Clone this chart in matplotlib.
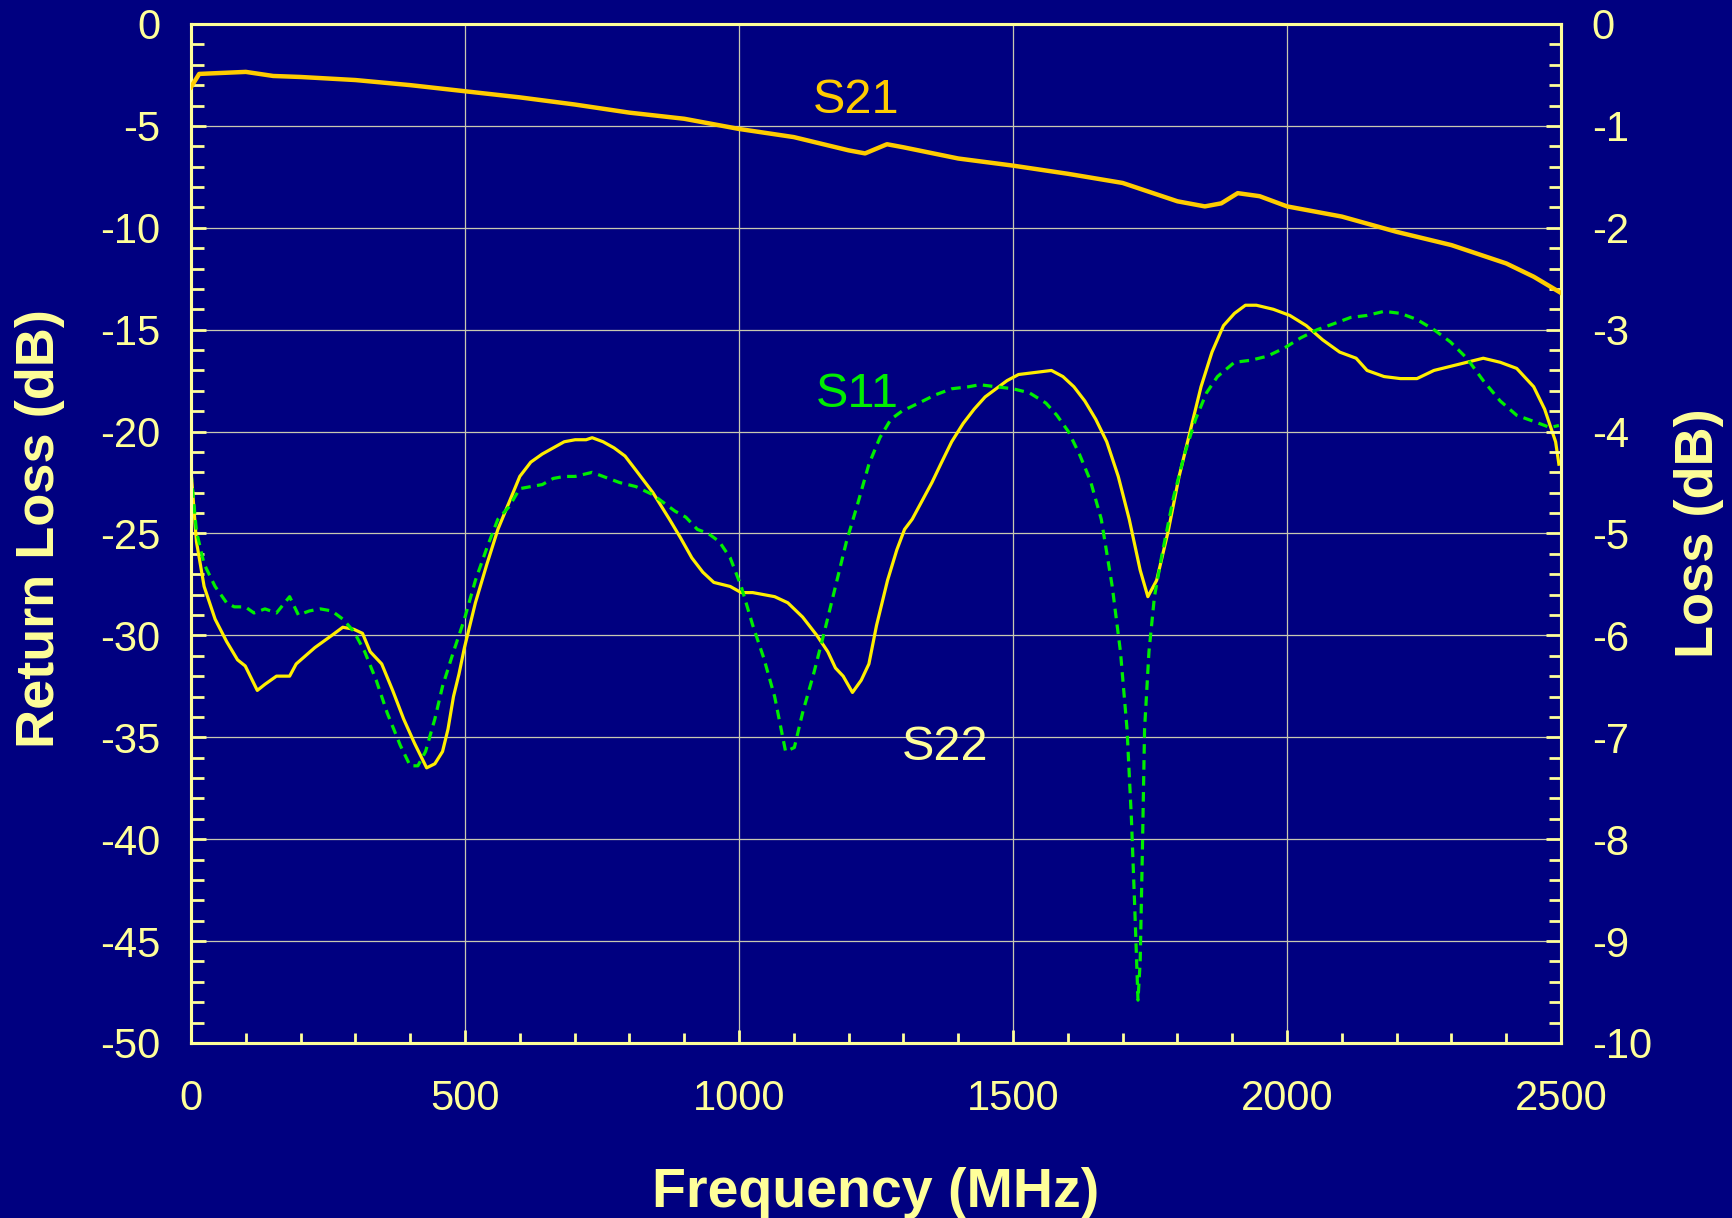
import matplotlib
matplotlib.use("Agg")
import matplotlib.pyplot as plt
from matplotlib.ticker import MultipleLocator

plt.rcParams['font.family'] = ['Liberation Sans', 'DejaVu Sans']
plt.rcParams['axes.unicode_minus'] = False

bg = '#000080'
fg = '#ffff99'

# S21 insertion loss (right axis, dB)
s21_f = [0, 15, 100, 150, 200, 300, 400, 500, 600, 700, 800, 900, 1000, 1100,
         1200, 1230, 1270, 1300, 1400, 1500, 1600, 1700, 1800, 1850, 1880, 1910,
         1950, 2000, 2100, 2200, 2300, 2400, 2450, 2500]
s21_db = [-0.62, -0.49, -0.47, -0.51, -0.52, -0.55, -0.6, -0.66, -0.72, -0.79,
          -0.87, -0.93, -1.03, -1.11, -1.24, -1.27, -1.18, -1.21, -1.32, -1.39,
          -1.47, -1.56, -1.74, -1.79, -1.76, -1.66, -1.69, -1.79, -1.89, -2.04,
          -2.17, -2.35, -2.48, -2.64]

# S22 return loss (left axis, dB)
s22_f = [0, 10, 24, 44, 65, 85, 99, 121, 135, 156, 180, 192, 226, 257, 277, 297,
         313, 327, 348, 368, 388, 408, 430, 445, 459, 469, 479, 489, 499, 519,
         540, 560, 580, 600, 620, 641, 661, 681, 701, 721, 732, 752, 772, 792,
         812, 843, 873, 893, 914, 934, 954, 984, 1004, 1025, 1045, 1065, 1089,
         1116, 1142, 1162, 1176, 1190, 1207, 1223, 1237, 1251, 1271, 1288, 1302,
         1316, 1332, 1352, 1368, 1388, 1409, 1429, 1449, 1469, 1489, 1510, 1540,
         1570, 1591, 1611, 1631, 1651, 1671, 1692, 1712, 1732, 1746, 1762, 1783,
         1803, 1823, 1843, 1863, 1884, 1904, 1924, 1944, 1975, 2005, 2035, 2065,
         2096, 2126, 2146, 2177, 2207, 2237, 2268, 2298, 2328, 2358, 2389, 2419,
         2450, 2470, 2490, 2496]
s22_db = [-21.9, -25.4, -27.6, -29.2, -30.3, -31.2, -31.5, -32.7, -32.4, -32.0,
          -32.0, -31.4, -30.6, -30.0, -29.6, -29.7, -29.9, -30.8, -31.4, -32.7,
          -34.1, -35.3, -36.5, -36.3, -35.7, -34.6, -33.0, -31.9, -30.6, -28.4,
          -26.5, -24.8, -23.5, -22.2, -21.5, -21.1, -20.8, -20.5, -20.4, -20.4,
          -20.3, -20.5, -20.8, -21.2, -21.9, -23.0, -24.3, -25.2, -26.2, -26.9,
          -27.4, -27.6, -27.9, -27.9, -28.0, -28.1, -28.4, -29.1, -30.0, -30.8,
          -31.6, -32.0, -32.8, -32.2, -31.4, -29.5, -27.3, -25.8, -24.8, -24.3,
          -23.5, -22.5, -21.6, -20.5, -19.6, -18.9, -18.3, -17.9, -17.5, -17.2,
          -17.1, -17.0, -17.3, -17.8, -18.5, -19.4, -20.5, -22.2, -24.3, -26.8,
          -28.1, -27.3, -24.9, -22.2, -20.0, -17.8, -16.1, -14.8, -14.2, -13.8,
          -13.8, -14.0, -14.3, -14.8, -15.5, -16.1, -16.4, -17.0, -17.3, -17.4,
          -17.4, -17.0, -16.8, -16.6, -16.4, -16.6, -16.9, -17.8, -18.9, -20.5,
          -21.6]

# S11 return loss (left axis, dB)
s11_f = [0, 10, 24, 44, 65, 79, 99, 115, 135, 156, 180, 196, 216, 236, 257, 277,
         297, 317, 338, 358, 382, 400, 414, 428, 445, 459, 479, 499, 519, 540,
         560, 580, 600, 620, 641, 661, 681, 701, 732, 762, 782, 812, 843, 863,
         883, 903, 924, 944, 964, 984, 1004, 1025, 1045, 1065, 1085, 1101, 1116,
         1136, 1156, 1176, 1196, 1217, 1237, 1257, 1277, 1297, 1328, 1358, 1388,
         1419, 1439, 1469, 1500, 1530, 1560, 1580, 1601, 1621, 1641, 1661, 1681,
         1696, 1708, 1716, 1722, 1728, 1732, 1736, 1740, 1748, 1758, 1772, 1793,
         1813, 1833, 1853, 1873, 1904, 1934, 1964, 1995, 2025, 2055, 2086, 2116,
         2146, 2177, 2207, 2237, 2268, 2298, 2328, 2358, 2389, 2419, 2450, 2480,
         2496]
s11_db = [-22.0, -24.9, -26.5, -27.6, -28.4, -28.6, -28.6, -28.9, -28.7, -28.9,
          -28.1, -29.0, -28.8, -28.7, -28.8, -29.2, -29.8, -30.8, -32.2, -33.8,
          -35.4, -36.4, -36.4, -35.7, -34.1, -32.5, -30.8, -29.2, -27.3, -25.7,
          -24.3, -23.7, -22.8, -22.7, -22.6, -22.3, -22.2, -22.2, -22.0, -22.3,
          -22.5, -22.7, -23.1, -23.5, -23.9, -24.2, -24.8, -25.0, -25.4, -26.2,
          -27.6, -29.5, -31.1, -33.0, -35.7, -35.5, -33.8, -31.9, -29.8, -27.6,
          -25.4, -23.5, -21.6, -20.3, -19.4, -19.0, -18.6, -18.2, -17.9, -17.8,
          -17.7, -17.8, -17.9, -18.1, -18.6, -19.2, -20.0, -21.1, -22.4, -24.3,
          -27.6, -30.8, -34.6, -39.0, -43.3, -47.9, -46.0, -40.6, -34.6, -30.8,
          -28.1, -26.0, -23.2, -21.1, -19.4, -18.1, -17.3, -16.6, -16.5, -16.3,
          -15.9, -15.4, -15.0, -14.7, -14.4, -14.3, -14.1, -14.2, -14.5, -15.0,
          -15.6, -16.4, -17.5, -18.5, -19.2, -19.5, -19.8, -19.7]

fig = plt.figure(figsize=(17.33, 12.18), dpi=100, facecolor=bg)
ax = fig.add_axes([0.1102, 0.1437, 0.7906, 0.8366])
ax.set_facecolor(bg)
ax2 = ax.twinx()

ax.grid(True, which='major', color='#c8c8b0', linewidth=0.9)
ax.set_axisbelow(True)

ax.plot(s22_f, s22_db, color='#ffee00', linewidth=2.3, zorder=3)
ax.plot(s11_f, s11_db, color='#00ee00', linewidth=2.3, linestyle=(0, (3, 2)), zorder=3)
ax2.plot(s21_f, s21_db, color='#ffcc00', linewidth=3.2, zorder=3)

ax.set_xlim(0, 2500)
ax.set_ylim(-50, 0)
ax2.set_ylim(-10, 0)

ax.xaxis.set_major_locator(MultipleLocator(500))
ax.xaxis.set_minor_locator(MultipleLocator(100))
ax.yaxis.set_major_locator(MultipleLocator(5))
ax.yaxis.set_minor_locator(MultipleLocator(1))
ax2.yaxis.set_major_locator(MultipleLocator(1))
ax2.yaxis.set_minor_locator(MultipleLocator(0.2))

for a in (ax, ax2):
    for s in a.spines.values():
        s.set_color(fg)
        s.set_linewidth(2.2)

ax.tick_params(axis='y', which='major', direction='in', length=11, width=2,
               color=fg, labelcolor=fg, labelsize=30, pad=22, right=False)
ax.tick_params(axis='y', which='minor', direction='in', length=9, width=2,
               color=fg, right=False)
ax.tick_params(axis='x', which='major', direction='in', length=9.5, width=2,
               color=fg, labelcolor=fg, labelsize=30, pad=26, top=False)
ax.tick_params(axis='x', which='minor', direction='in', length=7.5, width=2,
               color=fg, top=False)
ax2.tick_params(axis='y', which='major', direction='in', length=11, width=2,
                color=fg, labelcolor=fg, labelsize=30, pad=22)
ax2.tick_params(axis='y', which='minor', direction='in', length=9, width=2,
                color=fg)

ax.set_xlabel('Frequency (MHz)', fontsize=40, fontweight='bold', color=fg, va='baseline')
ax.xaxis.set_label_coords(0.5, -0.161)
ax.set_ylabel('Return Loss (dB)', fontsize=39, fontweight='bold', color=fg,
              ha='center', va='center')
ax.yaxis.set_label_coords(-0.110, 0.505)
ax2.set_ylabel('Loss (dB)', fontsize=39, fontweight='bold', color=fg,
               ha='center', va='center', rotation=90)
ax2.yaxis.set_label_coords(1.101, 0.5)

ax.text(1213, -3.73, 'S21', color='#ffcc00', fontsize=35, ha='center', va='center')
ax.text(1215, -18.2, 'S11', color='#00ee00', fontsize=35, ha='center', va='center')
ax.text(1376, -35.5, 'S22', color='#ffff99', fontsize=35, ha='center', va='center')

fig.savefig('out.png', dpi=100, facecolor=bg)
